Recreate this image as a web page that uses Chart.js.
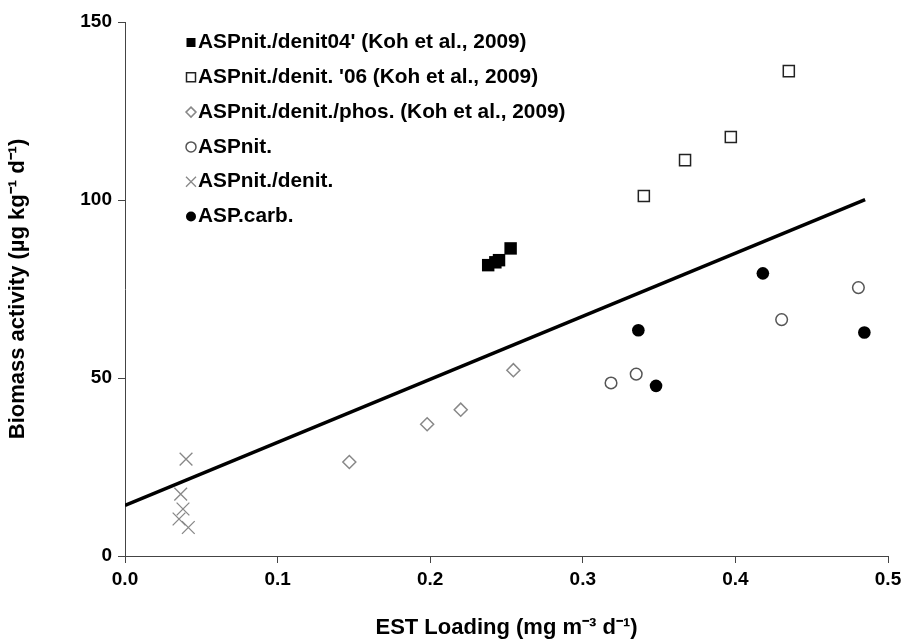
<!DOCTYPE html>
<html>
<head>
<meta charset="utf-8">
<script src="https://cdn.jsdelivr.net/npm/chart.js@4.4.0/dist/chart.umd.min.js"></script>
<style>
  html, body { margin: 0; padding: 0; background: #fff; }
  #wrap { width: 907px; height: 644px; position: relative; }
</style>
</head>
<body>
<div id="wrap"><canvas id="c" width="907" height="644"></canvas></div>
<script>
// ---- Data ----
const filledSquareX = [0.238, 0.2427, 0.2451, 0.2527];
const filledSquareY = [81.7, 82.5, 83.1, 86.4];
const openSquareX = [0.340, 0.367, 0.397, 0.435];
const openSquareY = [101.1, 111.2, 117.7, 136.2];
const diamondX = [0.147, 0.198, 0.220, 0.2545];
const diamondY = [26.4, 37.0, 41.1, 52.2];
const openCircleX = [0.3185, 0.335, 0.4303, 0.4806];
const openCircleY = [48.6, 51.1, 66.4, 75.4];
const crossX = [0.040, 0.0365, 0.038, 0.0354, 0.0415];
const crossY = [27.2, 17.4, 13.2, 10.4, 8.0];
const filledCircleX = [0.3364, 0.348, 0.418, 0.4845];
const filledCircleY = [63.4, 47.8, 79.4, 62.8];
const trendX = [0, 0.485];
const trendY = [14.2, 100.1];

const seriesLabels = [
  "ASPnit./denit04' (Koh et al., 2009)",
  "ASPnit./denit. '06 (Koh et al., 2009)",
  "ASPnit./denit./phos. (Koh et al., 2009)",
  "ASPnit.",
  "ASPnit./denit.",
  "ASP.carb."
];
const xTicks = [0, 0.1, 0.2, 0.3, 0.4, 0.5];
const yTicks = [0, 50, 100, 150];
const xTitle = "EST Loading (mg m\u207B\u00B3 d\u207B\u00B9)";
const yTitle = "Biomass activity (\u00B5g kg\u207B\u00B9 d\u207B\u00B9)";

function pts(xs, ys) { return xs.map((x, i) => ({ x: x, y: ys[i] })); }

const FONT = "'Liberation Sans', Arial, sans-serif";

const datasets = [
  { label: seriesLabels[0], data: pts(filledSquareX, filledSquareY), pointStyle: 'rect', pointRadius: 8.8,
    pointBackgroundColor: '#000', pointBorderColor: '#000', pointBorderWidth: 0, legendStyle: 'rect' },
  { label: seriesLabels[1], data: pts(openSquareX, openSquareY), pointStyle: 'rect', pointRadius: 7.8,
    pointBackgroundColor: '#fff', pointBorderColor: '#222', pointBorderWidth: 1.5, legendStyle: 'rect' },
  { label: seriesLabels[2], data: pts(diamondX, diamondY), pointStyle: 'rectRot', pointRadius: 6.5,
    pointBackgroundColor: '#fff', pointBorderColor: '#888', pointBorderWidth: 1.5, legendStyle: 'rectRot' },
  { label: seriesLabels[3], data: pts(openCircleX, openCircleY), pointStyle: 'circle', pointRadius: 5.8,
    pointBackgroundColor: '#fff', pointBorderColor: '#555', pointBorderWidth: 1.5, legendStyle: 'circle' },
  { label: seriesLabels[4], data: pts(crossX, crossY), pointStyle: 'crossRot', pointRadius: 9,
    pointBackgroundColor: '#888', pointBorderColor: '#888', pointBorderWidth: 1.3, legendStyle: 'crossRot' },
  { label: seriesLabels[5], data: pts(filledCircleX, filledCircleY), pointStyle: 'circle', pointRadius: 6.3,
    pointBackgroundColor: '#000', pointBorderColor: '#000', pointBorderWidth: 0, legendStyle: 'circle' },
  { label: 'trend', data: pts(trendX, trendY), showLine: true, pointRadius: 0, borderColor: '#000',
    borderWidth: 3.5, fill: false, noLegend: true }
];

// custom legend in the plot area, top-left
const customLegend = {
  id: 'customLegend',
  afterDraw(chart) {
    const ctx = chart.ctx;
    const mx = 191, y0 = 42.5, dy = 34.8, tx = 198;
    ctx.save();
    ctx.font = "bold 20.8px " + FONT;
    ctx.textBaseline = 'middle';
    ctx.textAlign = 'left';
    chart.data.datasets.forEach((ds, i) => {
      if (ds.noLegend) return;
      const y = y0 + i * dy;
      ctx.fillStyle = ds.pointBackgroundColor;
      ctx.strokeStyle = ds.pointBorderColor;
      ctx.lineWidth = ds.pointBorderWidth || 1;
      ctx.beginPath();
      const r = 5;
      if (ds.legendStyle === 'rect') {
        ctx.rect(mx - r + 0.5, y - r + 0.5, 2 * r - 1, 2 * r - 1);
      } else if (ds.legendStyle === 'rectRot') {
        ctx.moveTo(mx, y - r); ctx.lineTo(mx + r, y); ctx.lineTo(mx, y + r); ctx.lineTo(mx - r, y); ctx.closePath();
      } else if (ds.legendStyle === 'circle') {
        ctx.arc(mx, y, r, 0, Math.PI * 2);
      } else if (ds.legendStyle === 'crossRot') {
        ctx.moveTo(mx - r, y - r); ctx.lineTo(mx + r, y + r);
        ctx.moveTo(mx + r, y - r); ctx.lineTo(mx - r, y + r);
      }
      if (ds.legendStyle !== 'crossRot') ctx.fill();
      if (ds.pointBorderWidth > 0 || ds.legendStyle === 'crossRot') ctx.stroke();
      ctx.fillStyle = '#000';
      ctx.fillText(ds.label, tx, y);
    });
    ctx.restore();
  }
};

new Chart(document.getElementById('c'), {
  type: 'scatter',
  data: { datasets: datasets },
  plugins: [customLegend],
  options: {
    responsive: false,
    animation: false,
    devicePixelRatio: 1,
    layout: { padding: { top: 22, right: 19, left: 0, bottom: 0 } },
    plugins: { legend: { display: false }, tooltip: { enabled: false } },
    scales: {
      x: {
        type: 'linear', min: 0, max: 0.5,
        afterBuildTicks(scale) { scale.ticks = xTicks.map(v => ({ value: v })); },
        afterFit(scale) { scale.height = 88; },
        ticks: { callback: v => Number(v).toFixed(1), color: '#000', padding: 5,
                 font: { family: FONT, size: 19, weight: 'bold' }, maxRotation: 0, autoSkip: false },
        grid: { drawOnChartArea: false, drawTicks: true, tickLength: 7, color: '#444', lineWidth: 1 },
        border: { color: '#444', width: 1 },
        title: { display: true, text: xTitle, color: '#000', padding: { top: 0, bottom: 3 },
                 font: { family: FONT, size: 22, weight: 'bold' } }
      },
      y: {
        type: 'linear', min: 0, max: 150,
        afterBuildTicks(scale) { scale.ticks = yTicks.map(v => ({ value: v })); },
        afterFit(scale) { scale.width = 125; },
        ticks: { color: '#000', padding: 6, font: { family: FONT, size: 19, weight: 'bold' } },
        grid: { drawOnChartArea: false, drawTicks: true, tickLength: 7, color: '#444', lineWidth: 1 },
        border: { color: '#444', width: 1 },
        title: { display: true, text: yTitle, color: '#000', padding: { top: 5, bottom: 0 },
                 font: { family: FONT, size: 22, weight: 'bold' } }
      }
    }
  }
});
</script>
</body>
</html>
